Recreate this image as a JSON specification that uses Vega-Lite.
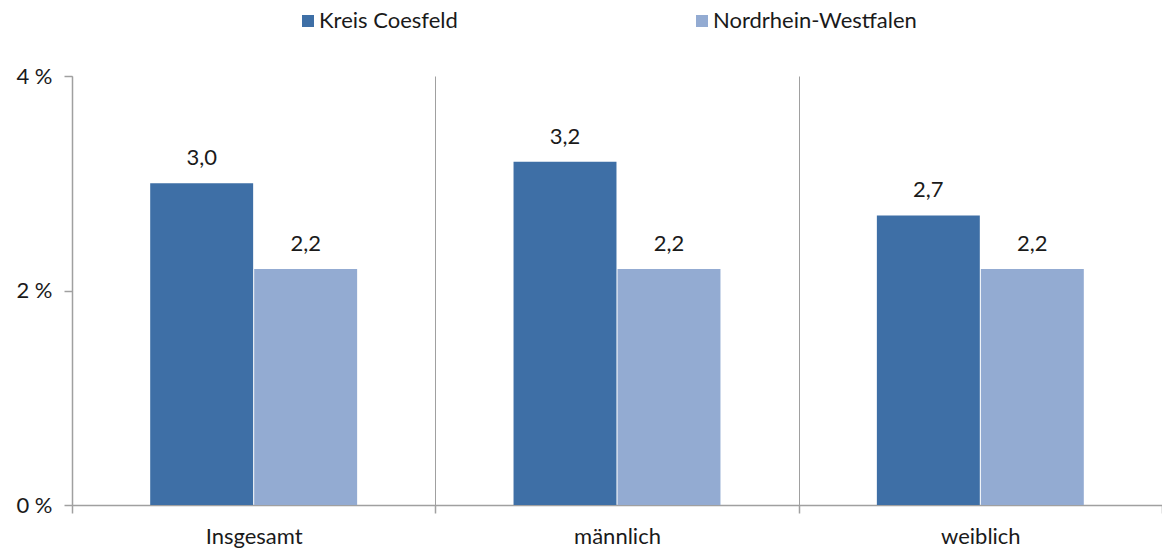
{
  "$schema": "https://vega.github.io/schema/vega-lite/v6.json",
  "width": 1090,
  "height": 429,
  "autosize": {"type": "none"},
  "padding": {"left": 72, "top": 76, "right": 0, "bottom": 46},
  "background": "white",
  "config": {
    "font": "Lato",
    "view": {"stroke": null}
  },
  "data": {
    "values": [
      {"Kategorie": "Insgesamt", "Region": "Kreis Coesfeld", "Wert": 3.0, "Label": "3,0"},
      {"Kategorie": "Insgesamt", "Region": "Nordrhein-Westfalen", "Wert": 2.2, "Label": "2,2"},
      {"Kategorie": "männlich", "Region": "Kreis Coesfeld", "Wert": 3.2, "Label": "3,2"},
      {"Kategorie": "männlich", "Region": "Nordrhein-Westfalen", "Wert": 2.2, "Label": "2,2"},
      {"Kategorie": "weiblich", "Region": "Kreis Coesfeld", "Wert": 2.7, "Label": "2,7"},
      {"Kategorie": "weiblich", "Region": "Nordrhein-Westfalen", "Wert": 2.2, "Label": "2,2"}
    ]
  },
  "encoding": {
    "x": {
      "field": "Kategorie",
      "type": "nominal",
      "sort": ["Insgesamt", "männlich", "weiblich"],
      "scale": {"paddingInner": 0, "paddingOuter": 0},
      "axis": {
        "title": null,
        "labelAngle": 0,
        "labelFontSize": 22,
        "labelColor": "#1A1A1A",
        "labelPadding": 13,
        "tickBand": "extent",
        "tickSize": 8,
        "tickColor": "#A0A0A0",
        "domainColor": "#A0A0A0",
        "grid": true,
        "gridColor": "#A0A0A0",
        "domainWidth": 1.5,
        "tickWidth": 1.5,
        "gridWidth": 1
      }
    },
    "xOffset": {
      "field": "Region",
      "type": "nominal",
      "sort": ["Kreis Coesfeld", "Nordrhein-Westfalen"],
      "scale": {"paddingInner": 0.01, "paddingOuter": 0.752}
    },
    "y": {
      "field": "Wert",
      "type": "quantitative",
      "scale": {"domain": [0, 4], "nice": false},
      "axis": {
        "title": null,
        "values": [0, 2, 4],
        "labelExpr": "datum.value + ' %'",
        "labelFontSize": 22,
        "labelColor": "#1A1A1A",
        "labelPadding": 12,
        "tickSize": 8,
        "tickColor": "#A0A0A0",
        "domainColor": "#A0A0A0",
        "domainWidth": 1.5,
        "tickWidth": 1.5,
        "grid": false
      }
    }
  },
  "layer": [
    {
      "mark": {"type": "bar"},
      "encoding": {
        "color": {
          "field": "Region",
          "type": "nominal",
          "scale": {"domain": ["Kreis Coesfeld", "Nordrhein-Westfalen"], "range": ["#3E6FA6", "#93ABD2"]},
          "legend": {
            "title": null,
            "orient": "none",
            "direction": "horizontal",
            "legendX": 225,
            "legendY": -66,
            "symbolType": "square",
            "symbolSize": 144,
            "symbolStrokeWidth": 0,
            "labelFontSize": 22,
            "labelColor": "#1A1A1A",
            "labelOffset": 0,
            "labelLimit": 0,
            "columnPadding": 233
          }
        }
      }
    },
    {
      "mark": {"type": "text", "baseline": "alphabetic", "dy": -18, "fontSize": 22, "color": "#1A1A1A"},
      "encoding": {
        "text": {"field": "Label"}
      }
    }
  ]
}
